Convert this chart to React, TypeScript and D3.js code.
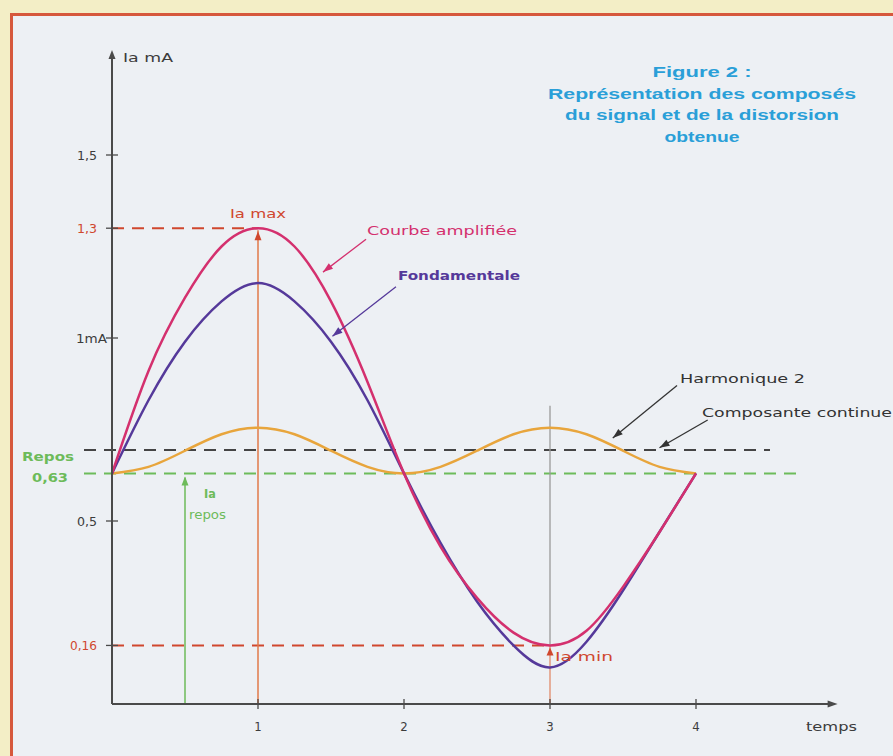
import React from "react";
import * as d3 from "d3";

// ---- data ----
const tValues = [0, 0.25, 0.5, 0.75, 1, 1.25, 1.5, 1.75, 2, 2.25, 2.5, 2.75, 3, 3.25, 3.5, 3.75, 4];
const fondamentale = [0.63, 0.83, 0.99, 1.1, 1.15, 1.1, 0.99, 0.83, 0.63, 0.44, 0.28, 0.16, 0.1, 0.17, 0.31, 0.47, 0.63];
const courbeAmplifiee = [0.63, 0.91, 1.11, 1.25, 1.3, 1.25, 1.1, 0.88, 0.63, 0.43, 0.29, 0.195, 0.16, 0.2, 0.32, 0.47, 0.63];
const harmonique2 = [0.63, 0.648, 0.692, 0.737, 0.755, 0.737, 0.692, 0.648, 0.63, 0.648, 0.692, 0.737, 0.755, 0.737, 0.692, 0.648, 0.63];
const xTicks = [1, 2, 3, 4];
const xTickLabels = ["1", "2", "3", "4"];
const yTicks = [1.5, 1.3, 1, 0.5, 0.16];
const yTickLabels = ["1,5", "1,3", "1mA", "0,5", "0,16"];
const composanteContinue = 0.694;
const repos = 0.63;
const iaMax = 1.3;
const iaMin = 0.16;
const titleLines = ["Figure 2 :", "Représentation des composés", "du signal et de la distorsion", "obtenue"];

const W = 893;
const H = 756;
const FONT = "'DejaVu Sans Condensed', 'DejaVu Sans', sans-serif";

export default function App() {
  const x = d3.scaleLinear().domain([0, 4]).range([112, 696]);
  const y = d3.scaleLinear().domain([0, 1.5]).range([704, 155]);

  const line = (vals: number[]) =>
    d3
      .line<number>()
      .x((_, i) => x(tValues[i]))
      .y((v) => y(v))
      .curve(d3.curveNatural)(vals) as string;

  const arrowHead = (x1: number, y1: number, x2: number, y2: number, size = 9, half = 3.5) => {
    const a = Math.atan2(y2 - y1, x2 - x1);
    const bx = x2 - size * Math.cos(a);
    const by = y2 - size * Math.sin(a);
    const px = -Math.sin(a) * half;
    const py = Math.cos(a) * half;
    return `M${x2},${y2}L${bx + px},${by + py}L${bx - px},${by - py}Z`;
  };

  const annot = (tail: [number, number], head: [number, number], color: string) => {
    const x1 = x(tail[0]), y1 = y(tail[1]), x2 = x(head[0]), y2 = y(head[1]);
    return (
      <g>
        <line x1={x1} y1={y1} x2={x2} y2={y2} stroke={color} strokeWidth={1.3} />
        <path d={arrowHead(x1, y1, x2, y2, 10, 3.5)} fill={color} />
      </g>
    );
  };

  const dash = "12 8";
  const axisColor = "#4a4a4a";
  const red = "#d0472e";
  const green = "#6dbb5a";
  const magenta = "#d4306e";
  const purple = "#55399a";
  const orange = "#e8a53c";
  const blue = "#2a9fd8";

  const x0 = x(0);
  const yBase = y(0);
  const yTop = y(1.787);
  const xEnd = x(4.97);
  const yLabelWidths = [20, 20, 31, 20, 27];

  return (
    <svg width={W} height={H} style={{ position: "absolute", left: 0, top: 0 }}>
      <rect x={0} y={0} width={W} height={H} fill="#f3eec6" />
      <rect x={11.5} y={14.5} width={W + 20} height={H + 20} fill="#edf0f4" stroke="#d6583c" strokeWidth={3} />

      {/* title */}
      {titleLines.map((t, i) => (
        <text
          key={i}
          x={702}
          y={77 + i * 21.7}
          textAnchor="middle"
          fontFamily="'Liberation Sans', Arial, sans-serif"
          fontWeight="bold"
          fontSize={14}
          fill={blue}
          textLength={[99, 308, 274, 75][i]}
          lengthAdjust="spacingAndGlyphs"
        >
          {t}
        </text>
      ))}

      {/* horizontal reference dashed lines */}
      <line x1={84} x2={770} y1={y(composanteContinue)} y2={y(composanteContinue)} stroke="#444" strokeWidth={2} strokeDasharray={dash} />
      <line x1={84} x2={798} y1={y(repos)} y2={y(repos)} stroke={green} strokeWidth={2} strokeDasharray={dash} />
      <line x1={x0} x2={x(1)} y1={y(iaMax)} y2={y(iaMax)} stroke={red} strokeWidth={2} strokeDasharray={dash} />
      <line x1={x0} x2={x(3)} y1={y(iaMin)} y2={y(iaMin)} stroke={red} strokeWidth={2} strokeDasharray={dash} />

      {/* vertical markers */}
      <line x1={x(1)} x2={x(1)} y1={yBase} y2={y(iaMax) + 2} stroke="#e07a4a" strokeWidth={1.5} />
      <path d={arrowHead(x(1), y(iaMax) + 20, x(1), y(iaMax) + 3, 9, 3.5)} fill={red} />
      <line x1={x(3)} x2={x(3)} y1={y(0.815)} y2={y(iaMin)} stroke="#9a9a9a" strokeWidth={1.3} />
      <line x1={x(3)} x2={x(3)} y1={y(iaMin)} y2={yBase} stroke="#e08a6a" strokeWidth={1.3} />
      <path d={arrowHead(x(3), y(iaMin) + 14, x(3), y(iaMin) + 2, 8, 3.5)} fill={red} />
      <line x1={x(0.5)} x2={x(0.5)} y1={yBase} y2={y(repos) + 4} stroke={green} strokeWidth={1.5} />
      <path d={arrowHead(x(0.5), y(repos) + 20, x(0.5), y(repos) + 3, 9, 3.5)} fill={green} />

      {/* curves */}
      <path d={line(harmonique2)} fill="none" stroke={orange} strokeWidth={2.5} />
      <path d={line(fondamentale)} fill="none" stroke={purple} strokeWidth={2.5} />
      <path d={line(courbeAmplifiee)} fill="none" stroke={magenta} strokeWidth={2.5} />

      {/* axes */}
      <line x1={x0} x2={x0} y1={yBase} y2={yTop + 4} stroke={axisColor} strokeWidth={2} />
      <path d={arrowHead(x0, yTop + 14, x0, yTop, 9, 3.5)} fill={axisColor} />
      <line x1={x0} x2={xEnd - 4} y1={yBase} y2={yBase} stroke={axisColor} strokeWidth={2} />
      <path d={arrowHead(xEnd - 14, yBase, xEnd, yBase, 10, 3.5)} fill={axisColor} />

      {yTicks.map((v) => (
        <line key={v} x1={x0 - 6} x2={x0 + 6} y1={y(v)} y2={y(v)} stroke={axisColor} strokeWidth={1.3} />
      ))}
      {xTicks.map((v) => (
        <line key={v} x1={x(v)} x2={x(v)} y1={yBase - 5} y2={yBase + 5} stroke={axisColor} strokeWidth={1.3} />
      ))}

      {/* tick labels */}
      <g fontFamily={FONT} fontSize={13}>
        {yTicks.map((v, i) => (
          <text
            key={v}
            x={v === 1 ? x0 - 5 : x0 - 15}
            y={y(v) + 5}
            textAnchor="end"
            fill={v === iaMax || v === iaMin ? red : "#3c3c3c"}
            textLength={yLabelWidths[i]}
            lengthAdjust="spacingAndGlyphs"
          >
            {yTickLabels[i]}
          </text>
        ))}
        {xTicks.map((v, i) => (
          <text key={v} x={x(v)} y={yBase + 27} textAnchor="middle" fill="#3c3c3c">
            {xTickLabels[i]}
          </text>
        ))}
        <text x={806} y={yBase + 27} fill="#3c3c3c" textLength={51} lengthAdjust="spacingAndGlyphs">temps</text>
        <text x={123} y={62} fill="#3c3c3c" textLength={50} lengthAdjust="spacingAndGlyphs">Ia mA</text>
        <text x={48} y={y(repos) - 12} textAnchor="middle" fill={green} fontWeight="bold" textLength={52} lengthAdjust="spacingAndGlyphs">Repos</text>
        <text x={50} y={y(repos) + 9} textAnchor="middle" fill={green} fontWeight="bold" textLength={36} lengthAdjust="spacingAndGlyphs">0,63</text>
      </g>

      {/* annotations */}
      <g fontFamily={FONT} fontSize={12.5}>
        <text x={x(1)} y={y(iaMax) - 10} textAnchor="middle" fill={red} textLength={56} lengthAdjust="spacingAndGlyphs">Ia max</text>
        <text x={x(3) + 5} y={y(iaMin) + 16} fill={red} textLength={58} lengthAdjust="spacingAndGlyphs">Ia min</text>
        <text x={x(0.5) + 19} y={y(repos) + 25} fill={green} fontWeight="bold">Ia</text>
        <text x={x(0.5) + 4} y={y(repos) + 46} fill={green} textLength={37} lengthAdjust="spacingAndGlyphs">repos</text>
        <text x={367} y={235} fill={magenta} textLength={150} lengthAdjust="spacingAndGlyphs">Courbe amplifiée</text>
        <text x={398} y={280} fill={purple} fontWeight="bold" textLength={122} lengthAdjust="spacingAndGlyphs">Fondamentale</text>
        <text x={680} y={383} fill="#333" textLength={125} lengthAdjust="spacingAndGlyphs">Harmonique 2</text>
        <text x={702} y={417} fill="#333" textLength={190} lengthAdjust="spacingAndGlyphs">Composante continue</text>
      </g>
      {annot([1.74, 1.27], [1.445, 1.18], magenta)}
      {annot([1.945, 1.14], [1.51, 1.005], purple)}
      {annot([3.87, 0.87], [3.43, 0.727], "#333")}
      {annot([4.08, 0.776], [3.75, 0.7], "#333")}
    </svg>
  );
}
